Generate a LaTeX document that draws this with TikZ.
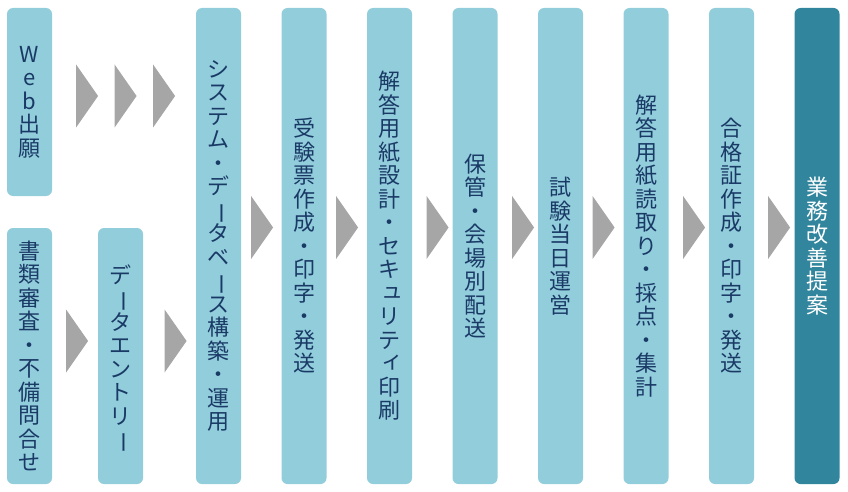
\documentclass[tikz,border=0pt]{standalone}
\usepackage{fontspec}
\usepackage{graphicx}
\setmainfont{Noto Sans CJK JP}
\usepackage{tikz}
\usetikzlibrary{shapes.geometric,positioning}
\definecolor{lightaqua}{HTML}{92CDDC}
\definecolor{darkaqua}{HTML}{31859C}
\definecolor{navytext}{HTML}{1A3A66}
\definecolor{arrowgray}{HTML}{A6A6A6}
\tikzstyle{stage} = [rectangle, rounded corners=6pt, minimum width=45pt, minimum height=476pt, inner sep=0pt, align=center, fill=lightaqua, text=navytext, font=\fontsize{22}{23.5}\selectfont]
\tikzstyle{final} = [stage, fill=darkaqua, text=white]
\tikzstyle{chevron} = [isosceles triangle, isosceles triangle stretches, inner sep=0pt, minimum width=63pt, minimum height=22pt, fill=arrowgray]
\newcommand{\chouon}{\smash{\rotatebox[origin=c]{-90}{ー}}}
\newcommand{\smallkana}[1]{\hspace{0.3em}\raisebox{0.15em}{#1}}
\begin{document}
\begin{tikzpicture}[x=1pt, y=1pt, node distance=85.5pt]
\useasboundingbox (0,0) rectangle (848,-492);
% Draw stages
\node (web) [stage, minimum height=188pt] at (29.5,-102)
{W\\e\\b\\出\\願};
\node (docs) [stage, minimum height=256pt] at (29.5,-356)
{書\\類\\審\\査\\・\\不\\備\\問\\合\\せ};
\node (entry) [stage, minimum height=256pt] at (120.5,-356)
{デ\\\chouon\\タ\\エ\\ン\\ト\\リ\\\chouon};
\node (system) [stage] at (218.5,-246)
{シ\\ス\\テ\\ム\\・\\デ\\\chouon\\タ\\ベ\\\chouon\\ス\\構\\築\\・\\運\\用};
\node (ticket) [stage, right of = system]
{受\\験\\票\\作\\成\\・\\印\\字\\・\\発\\送};
\node (sheet) [stage, right of = ticket]
{解\\答\\用\\紙\\設\\計\\・\\セ\\キ\\\smallkana{ュ}\\リ\\テ\\\smallkana{ィ}\\印\\刷};
\node (storage) [stage, right of = sheet]
{保\\管\\・\\会\\場\\別\\配\\送};
\node (examday) [stage, right of = storage]
{試\\験\\当\\日\\運\\営};
\node (scoring) [stage, right of = examday]
{解\\答\\用\\紙\\読\\取\\り\\・\\採\\点\\・\\集\\計};
\node (cert) [stage, right of = scoring]
{合\\格\\証\\作\\成\\・\\印\\字\\・\\発\\送};
\node (improve) [final, right of = cert]
{業\\務\\改\\善\\提\\案};
% Draw arrows
\node (web_a) [chevron] at (86,-96) {};
\node (web_b) [chevron] at (124.5,-96) {};
\node (web_c) [chevron] at (163,-96) {};
\node (docs_a) [chevron] at (76,-341) {};
\node (docs_b) [chevron] at (174.5,-341) {};
\node (system_a) [chevron] at (261,-227.5) {};
\node (ticket_a) [chevron] at (346,-227.5) {};
\node (sheet_a) [chevron] at (436.5,-227.5) {};
\node (storage_a) [chevron] at (522,-227.5) {};
\node (examday_a) [chevron] at (602.5,-227.5) {};
\node (scoring_a) [chevron] at (693,-227.5) {};
\node (cert_a) [chevron] at (778,-227.5) {};
\end{tikzpicture}
\end{document}
